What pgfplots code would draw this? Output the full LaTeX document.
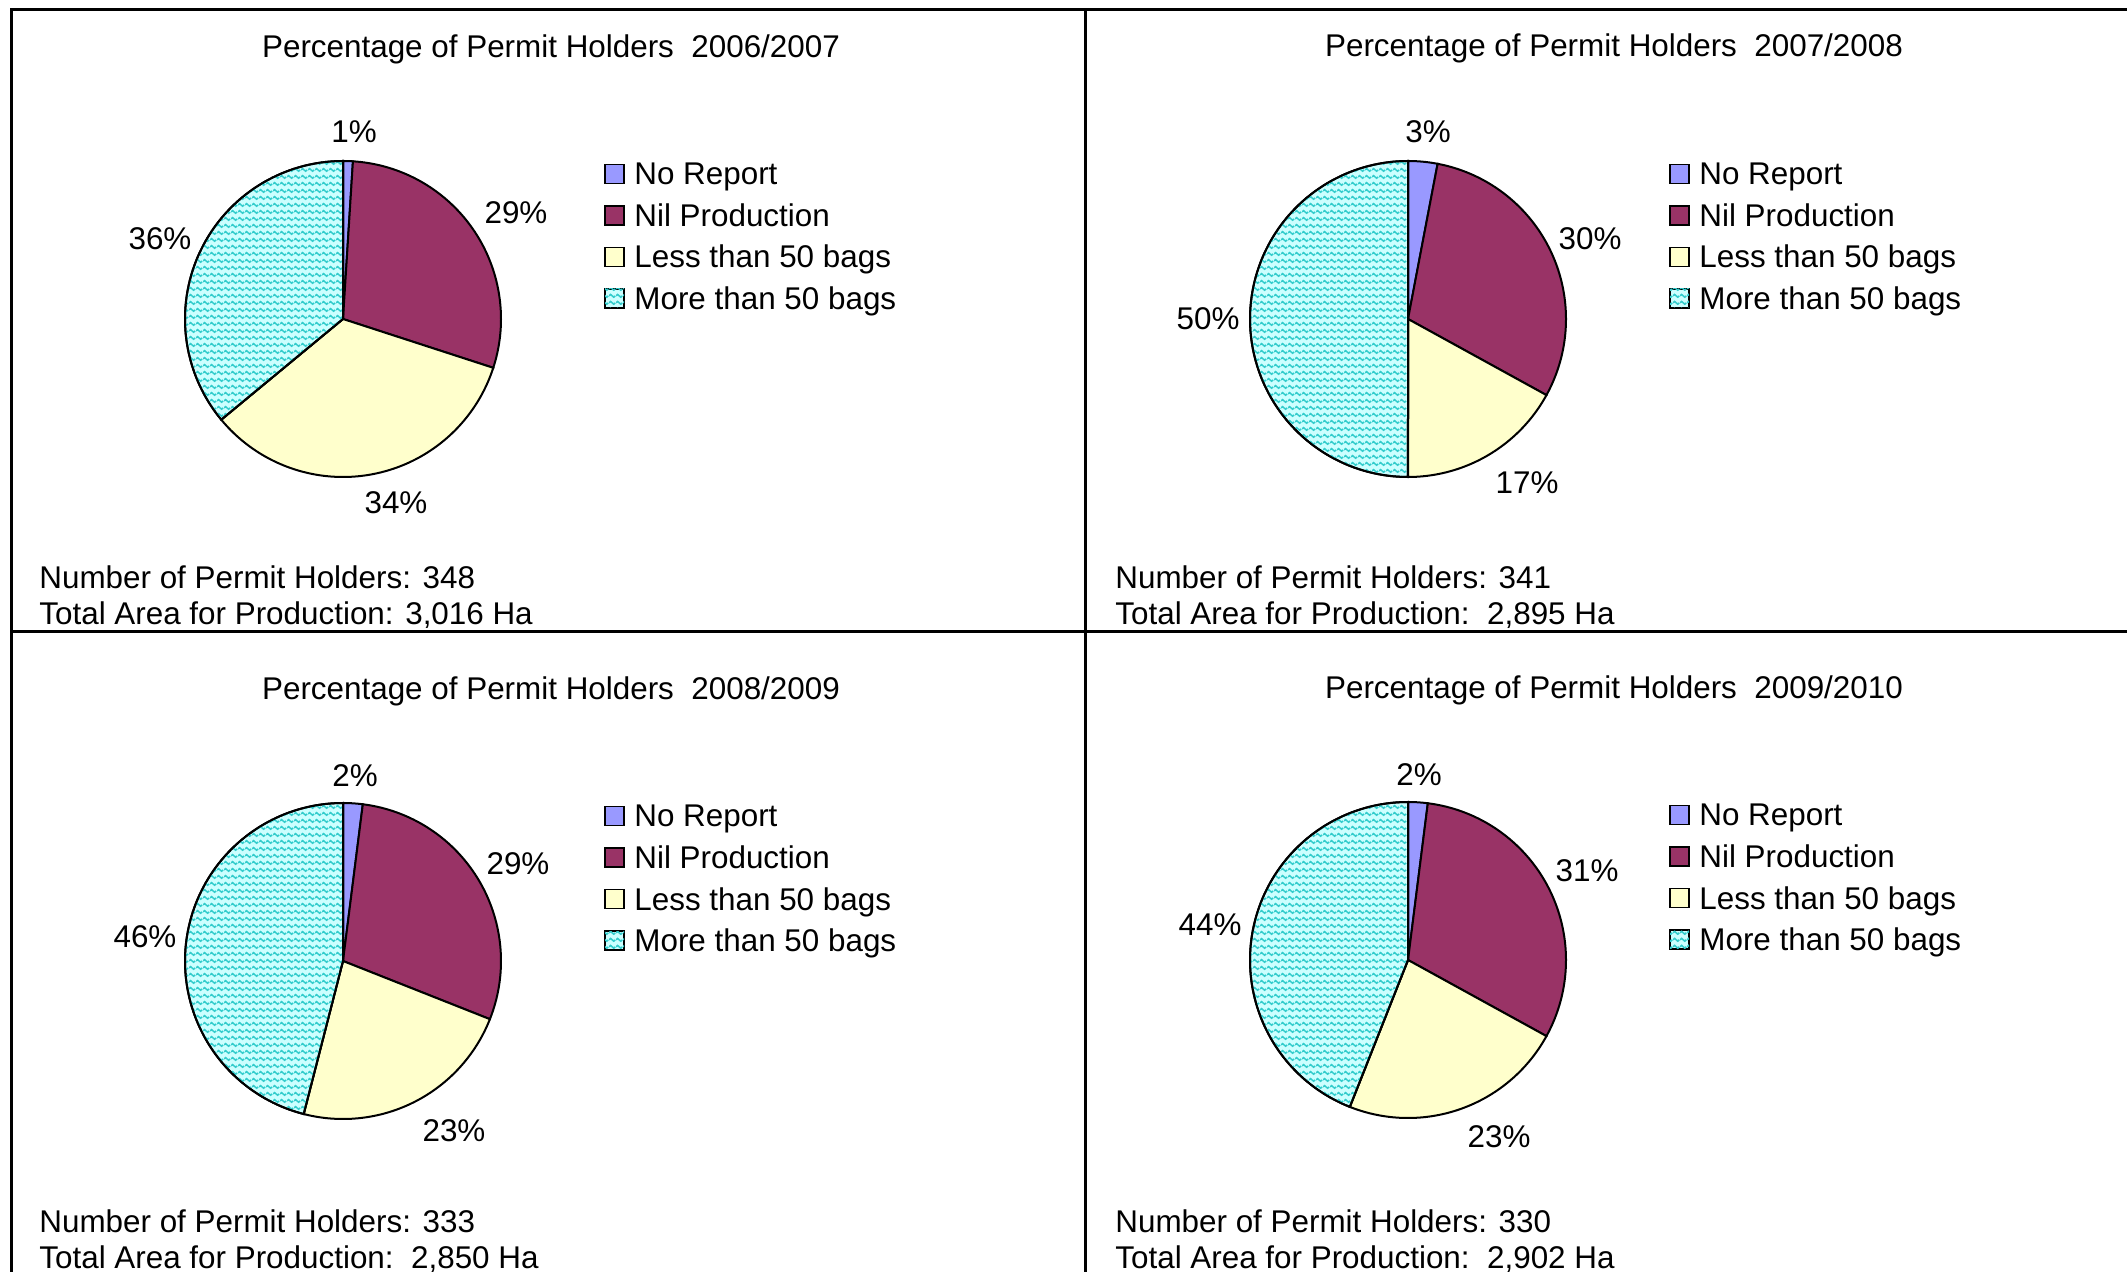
\documentclass[border=0pt]{standalone}
\usepackage{fontspec}
\setmainfont{Liberation Sans}
\usepackage{pgfplots}
\pgfplotsset{compat=1.18}
\usetikzlibrary{patterns.meta}
\definecolor{norep}{HTML}{9999FF}
\definecolor{nil}{HTML}{993366}
\definecolor{less}{HTML}{FFFFCC}
\definecolor{more}{HTML}{CCFFFF}
\definecolor{zig}{HTML}{33CCCC}
\tikzdeclarepattern{
  name=wavy, type=uncolored,
  bounding box={(0pt,0pt) and (3.5pt,3.5pt)},
  tile size={(3.5pt,3.5pt)},
  code={\draw[line width=0.85pt] (0pt,1.75pt) sin (0.875pt,2.5pt) cos (1.75pt,1.75pt) sin (2.625pt,1.0pt) cos (3.5pt,1.75pt);}
}
\tikzset{moresty/.style={fill=more, postaction={pattern=wavy, pattern color=zig}}}
\newcommand\fs{\fontsize{15.7}{18}\selectfont}
% cx, cy, start %, end %, style
\newcommand\slice[5]{%
  \addplot[#5, draw=black, line width=1pt, domain=90-3.6*#4:90-3.6*#3, samples=100, variable=\t]
    ({#1+158*cos(\t)},{#2-158*sin(\t)}) -- (axis cs:#1,#2) -- cycle;
}
% x of square left, y of first row center
\newcommand\mylegend[2]{%
  \draw[line width=0.8pt, fill=norep] (axis cs:#1,#2-9.5) rectangle (axis cs:#1+19,#2+9.5);
  \draw[line width=0.8pt, fill=nil] (axis cs:#1,#2+41.5-9.5) rectangle (axis cs:#1+19,#2+41.5+9.5);
  \draw[line width=0.8pt, fill=less] (axis cs:#1,#2+83-9.5) rectangle (axis cs:#1+19,#2+83+9.5);
  \draw[line width=0.8pt, moresty] (axis cs:#1,#2+124.5-9.5) rectangle (axis cs:#1+19,#2+124.5+9.5);
  \node[anchor=base west, font=\fs, inner sep=0pt] at (axis cs:#1+29,#2+11) {No Report};
  \node[anchor=base west, font=\fs, inner sep=0pt] at (axis cs:#1+29,#2+41.5+11) {Nil Production};
  \node[anchor=base west, font=\fs, inner sep=0pt] at (axis cs:#1+29,#2+83+11) {Less than 50 bags};
  \node[anchor=base west, font=\fs, inner sep=0pt] at (axis cs:#1+29,#2+124.5+11) {More than 50 bags};
}
\begin{document}
\begin{tikzpicture}
\begin{axis}[x=0.5pt, y=0.5pt, y dir=reverse, xmin=0, xmax=2127, ymin=0, ymax=1272,
  hide axis, clip=false, scale only axis]
\coordinate (BL) at (axis cs:0,1272);
\coordinate (TR) at (axis cs:2127,0);
% frame
\draw[line width=1.5pt] (axis cs:11,1272) -- (axis cs:11,10) -- (axis cs:2127,10);
\draw[line width=1.5pt] (axis cs:1085,10) -- (axis cs:1085,1272);
\draw[line width=1.5pt] (axis cs:11,632) -- (axis cs:2127,632);

% ---- 2006/2007: 1, 29, 34, 36
\slice{343}{319}{0}{1}{fill=norep}
\slice{343}{319}{1}{30}{fill=nil}
\slice{343}{319}{30}{64}{fill=less}
\slice{343}{319}{64}{100}{moresty}
% ---- 2007/2008: 3, 30, 17, 50
\slice{1408}{319}{0}{3}{fill=norep}
\slice{1408}{319}{3}{33}{fill=nil}
\slice{1408}{319}{33}{50}{fill=less}
\slice{1408}{319}{50}{100}{moresty}
% ---- 2008/2009: 2, 29, 23, 46
\slice{343}{961}{0}{2}{fill=norep}
\slice{343}{961}{2}{31}{fill=nil}
\slice{343}{961}{31}{54}{fill=less}
\slice{343}{961}{54}{100}{moresty}
% ---- 2009/2010: 2, 31, 23, 44
\slice{1408}{960}{0}{2}{fill=norep}
\slice{1408}{960}{2}{33}{fill=nil}
\slice{1408}{960}{33}{56}{fill=less}
\slice{1408}{960}{56}{100}{moresty}

% titles
\node[anchor=base, font=\fs] at (axis cs:551,58) {Percentage of Permit Holders\ \ 2006/2007};
\node[anchor=base, font=\fs] at (axis cs:1614,57) {Percentage of Permit Holders\ \ 2007/2008};
\node[anchor=base, font=\fs] at (axis cs:551,700) {Percentage of Permit Holders\ \ 2008/2009};
\node[anchor=base, font=\fs] at (axis cs:1614,699) {Percentage of Permit Holders\ \ 2009/2010};

% legends
\mylegend{605}{174}
\mylegend{1670}{174}
\mylegend{605}{816}
\mylegend{1670}{815}

% percentage labels
\node[font=\fs] at (axis cs:354,132) {1\%};
\node[font=\fs] at (axis cs:516,213) {29\%};
\node[font=\fs] at (axis cs:396,503) {34\%};
\node[font=\fs] at (axis cs:160,239) {36\%};

\node[font=\fs] at (axis cs:1428,132) {3\%};
\node[font=\fs] at (axis cs:1590,239) {30\%};
\node[font=\fs] at (axis cs:1527,483) {17\%};
\node[font=\fs] at (axis cs:1208,319) {50\%};

\node[font=\fs] at (axis cs:355,776) {2\%};
\node[font=\fs] at (axis cs:518,864) {29\%};
\node[font=\fs] at (axis cs:454,1131) {23\%};
\node[font=\fs] at (axis cs:145,937) {46\%};

\node[font=\fs] at (axis cs:1419,775) {2\%};
\node[font=\fs] at (axis cs:1587,871) {31\%};
\node[font=\fs] at (axis cs:1499,1137) {23\%};
\node[font=\fs] at (axis cs:1210,925) {44\%};

% bottom texts
\node[anchor=base west, font=\fs, inner sep=0pt] at (axis cs:39,589) {Number of Permit Holders: 348};
\node[anchor=base west, font=\fs, inner sep=0pt] at (axis cs:39,625) {Total Area for Production: 3,016 Ha};
\node[anchor=base west, font=\fs, inner sep=0pt] at (axis cs:1115,589) {Number of Permit Holders: 341};
\node[anchor=base west, font=\fs, inner sep=0pt] at (axis cs:1115,625) {Total Area for Production:\ \ 2,895 Ha};
\node[anchor=base west, font=\fs, inner sep=0pt] at (axis cs:39,1232) {Number of Permit Holders: 333};
\node[anchor=base west, font=\fs, inner sep=0pt] at (axis cs:39,1268) {Total Area for Production:\ \ 2,850 Ha};
\node[anchor=base west, font=\fs, inner sep=0pt] at (axis cs:1115,1232) {Number of Permit Holders: 330};
\node[anchor=base west, font=\fs, inner sep=0pt] at (axis cs:1115,1268) {Total Area for Production:\ \ 2,902 Ha};
\end{axis}
\pgfresetboundingbox
\path[use as bounding box] (BL) rectangle (TR);
\end{tikzpicture}
\end{document}
